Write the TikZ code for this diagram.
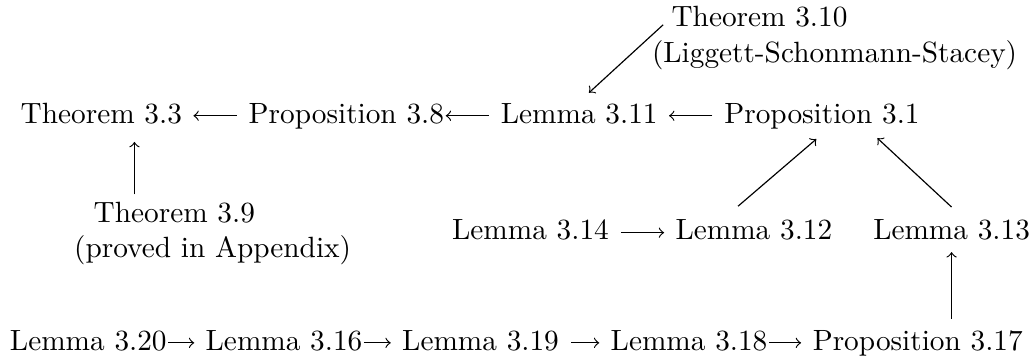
\documentclass[tikz,border=0pt]{standalone}
\usepackage{amsmath}
\usepackage{tikz}
\usetikzlibrary{positioning, arrows}
\tikzstyle{arrow} = [->]

\begin{document}
\begin{tikzpicture}[
	lbl/.style={inner sep=0pt, outer sep=0pt, text height=6.94pt, text depth=1.94pt},
	twoline/.style={inner sep=0pt, outer sep=0pt, align=left}
	]
	\useasboundingbox (0,0) rectangle (353.2pt,-122.9pt);
	
	% top row
	\node[lbl, anchor=base west] (thm33) at (7.07pt,-42pt) {Theorem 3.3};
	\node[lbl, base right=22.78pt of thm33] (prop38) {Proposition 3.8};
	\node[lbl, base right=19.44pt of prop38] (lem311) {Lemma 3.11};
	\node[lbl, base right=22.78pt of lem311] (prop31) {Proposition 3.1};
	
	\node[twoline, anchor=north west] (thm310) at (222.5pt,-2.26pt) {\hspace*{6.67pt}Theorem 3.10\\(Liggett-Schonmann-Stacey)};
	\node[twoline, anchor=north west] (thm39) at (25.3pt,-68.86pt) {\hspace*{6.67pt}Theorem 3.9\\(proved in Appendix)};
	
	% middle row
	\node[lbl, anchor=base west] (lem314) at (154.3pt,-81.9pt) {Lemma 3.14};
	\node[lbl, base right=22.78pt of lem314] (lem312) {Lemma 3.12};
	\node[lbl, base right=14pt of lem312] (lem313) {Lemma 3.13};
	
	% bottom row
	\node[lbl, anchor=base west] (lem320) at (3.4pt,-119.5pt) {Lemma 3.20};
	\node[lbl, base right=13.33pt of lem320] (lem316) {Lemma 3.16};
	\node[lbl, base right=13.6pt of lem316] (lem319) {Lemma 3.19};
	\node[lbl, base right=17.7pt of lem319] (lem318) {Lemma 3.18};
	\node[lbl, base right=15.5pt of lem318] (prop317) {Proposition 3.17};
	
	\draw[arrow, shorten >=3.9pt, shorten <=4.1pt] (prop38) -- (thm33);
	\draw[arrow, shorten >=0.6pt, shorten <=4.1pt] (lem311) -- (prop38);
	\draw[arrow, shorten >=3.9pt, shorten <=4.1pt] (prop31) -- (lem311);
	\draw[arrow, shorten >=3.9pt, shorten <=4.1pt] (lem314) -- (lem312);
	
	\draw[arrow, shorten >=3.9pt, shorten <=0.56pt] (lem320) -- (lem316);
	\draw[arrow, shorten >=3.9pt, shorten <=0.56pt] (lem316) -- (lem319);
	\draw[arrow, shorten >=3.9pt, shorten <=4.2pt] (lem319) -- (lem318);
	\draw[arrow, shorten >=4pt, shorten <=0.56pt] (lem318) -- (prop317);
	
	\coordinate (up39) at ([xshift=11.3pt]thm33.south);
	\draw[arrow, shorten >=4.5pt, shorten <=2.5pt] (up39 |- thm39.north) -- (up39);
	\draw[arrow, shorten >=2.2pt, shorten <=3.7pt] (prop317.north -| lem313.south) -- (lem313.south);
	
	\draw[arrow] ([xshift=3.8pt, yshift=-6.2pt]thm310.north west) -- ([xshift=3.3pt, yshift=3.4pt]lem311.north);
	\draw[arrow] ([xshift=-5.4pt, yshift=4.6pt]lem312.north) -- ([xshift=-1.9pt, yshift=-3.5pt]prop31.south);
	\draw[arrow] ([yshift=4.3pt]lem313.north) -- ([xshift=18.9pt, yshift=-3.2pt]prop31.south);
\end{tikzpicture}
\end{document}
